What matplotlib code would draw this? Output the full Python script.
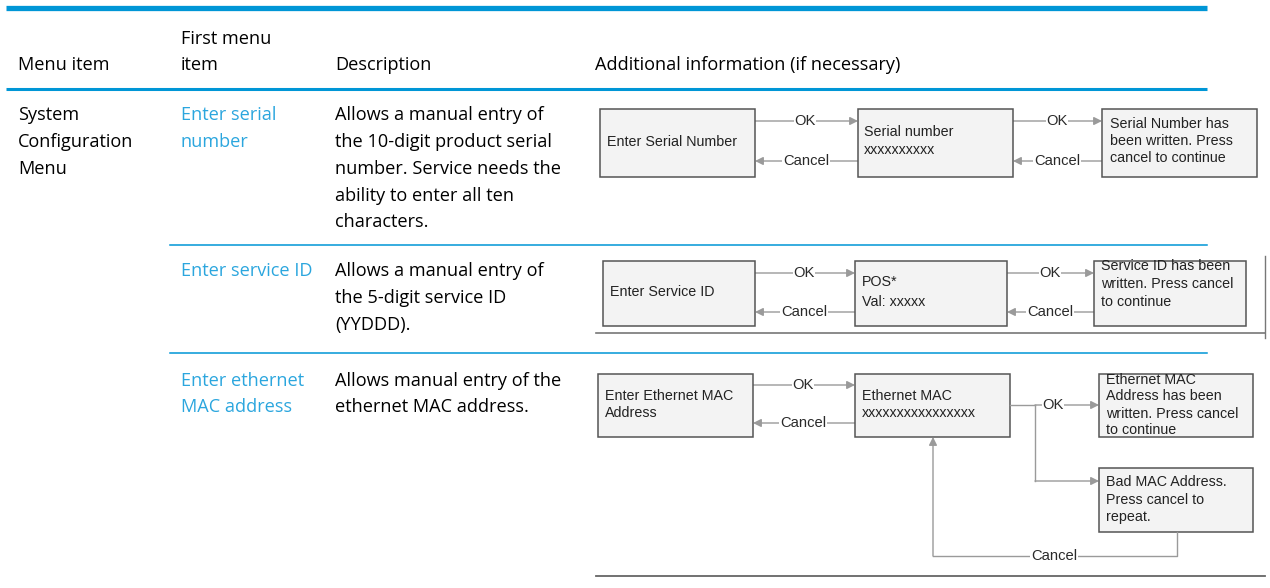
import matplotlib

matplotlib.use("Agg")
import matplotlib.pyplot as plt
from matplotlib.patches import Rectangle

# table text
header_labels = ["Menu item", "First menu\nitem", "Description", "Additional information (if necessary)"]
menu_item = ["System", "Configuration", "Menu"]
first_items = [
    ["Enter serial", "number"],
    ["Enter service ID"],
    ["Enter ethernet", "MAC address"],
]
descriptions = [
    ["Allows a manual entry of", "the 10-digit product serial", "number. Service needs the",
     "ability to enter all ten", "characters."],
    ["Allows a manual entry of", "the 5-digit service ID", "(YYDDD)."],
    ["Allows manual entry of the", "ethernet MAC address."],
]

# flow diagram box texts
serial_boxes = [["Enter Serial Number"], ["Serial number", "xxxxxxxxxx"],
                ["Serial Number has", "been written. Press", "cancel to continue"]]
service_boxes = [["Enter Service ID"], ["POS*", "Val: xxxxx"],
                 ["Service ID has been", "written. Press cancel", "to continue"]]
mac_boxes = [["Enter Ethernet MAC", "Address"], ["Ethernet MAC", "xxxxxxxxxxxxxxxx"],
             ["Ethernet MAC", "Address has been", "written. Press cancel", "to continue"],
             ["Bad MAC Address.", "Press cancel to", "repeat."]]
ok_label, cancel_label = "OK", "Cancel"

BLUE = "#0096D6"
LINK = "#2BA6DE"
GRAY = "#9a9a9a"
TFONT = ["Open Sans", "DejaVu Sans"]
DFONT = ["Liberation Sans", "DejaVu Sans"]

fig = plt.figure(figsize=(12.7, 5.88), dpi=100)
ax = fig.add_axes([0, 0, 1, 1])
ax.set_xlim(0, 1270)
ax.set_ylim(588, 0)
ax.axis("off")


def lines_at(x, y0, lines, dy, color="black", size=13.1, family=TFONT):
    for i, s in enumerate(lines):
        ax.text(x, y0 + 1.5 + i * dy, s, color=color, fontsize=size, family=family,
                va="center", ha="left")


def box(x0, y0, x1, y1, lines, tx, ty, dy=17.5):
    ax.add_patch(Rectangle((x0, y0), x1 - x0, y1 - y0, facecolor="#f3f3f3",
                           edgecolor="#555555", lw=1.1, zorder=2))
    for i, s in enumerate(lines):
        ax.text(tx, ty + 0.5 + i * dy, s, fontsize=10.3, family=DFONT, color="#222222",
                va="center", ha="left", zorder=3)


def arrow(x_from, x_to, y, label, lx, y_to=None):
    ax.annotate("", xy=(x_to, y if y_to is None else y_to), xytext=(x_from, y),
                arrowprops=dict(arrowstyle="-|>", color=GRAY, lw=1, mutation_scale=12,
                                shrinkA=0, shrinkB=0), zorder=1)
    if label:
        ax.text(lx, y, label, fontsize=10.6, family=DFONT, color="#2a2a2a", ha="center",
                va="center", bbox=dict(facecolor="white", edgecolor="none", pad=0.5), zorder=2)


# header
ax.plot([6, 1207], [8, 8], color=BLUE, lw=3.8, solid_capstyle="butt")
ax.plot([6, 1207], [89, 89], color=BLUE, lw=2.2, solid_capstyle="butt")
lines_at(18, 63, [header_labels[0]], 26)
lines_at(181, 37, header_labels[1].split("\n"), 26)
lines_at(335, 63, [header_labels[2]], 26)
lines_at(595, 63, [header_labels[3]], 26)

# rows
lines_at(18, 114, menu_item, 26.5)
row_y = [114, 270, 379]
for ys, fi, de in zip(row_y, first_items, descriptions):
    lines_at(181, ys, fi, 26.7, color=LINK)
    lines_at(335, ys, de, 26.7)
for y in [245, 353]:
    ax.plot([170, 1207], [y, y], color=BLUE, lw=1.1)

# row 1 diagram
box(600, 109, 755, 177, serial_boxes[0], 607, 141)
box(858, 109, 1013, 177, serial_boxes[1], 864, 131, 19)
box(1102, 109, 1257, 177, serial_boxes[2], 1110, 123, 17.5)
arrow(755, 858, 121, ok_label, 805)
arrow(858, 755, 161, cancel_label, 806)
arrow(1013, 1102, 121, ok_label, 1057)
arrow(1102, 1013, 161, cancel_label, 1057)

# row 2 diagram
box(603, 261, 755, 326, service_boxes[0], 610, 292)
box(855, 261, 1007, 326, service_boxes[1], 862, 282, 19)
box(1094, 261, 1246, 326, service_boxes[2], 1101, 266, 17.5)
arrow(755, 855, 273, ok_label, 804)
arrow(855, 755, 312, cancel_label, 804)
arrow(1007, 1094, 273, ok_label, 1050)
arrow(1094, 1007, 312, cancel_label, 1050)
ax.plot([596, 1265], [333, 333], color="#777777", lw=1.2)
ax.plot([1265, 1265], [256, 338], color="#777777", lw=1)

# row 3 diagram
box(598, 374, 753, 437, mac_boxes[0], 605, 396, 16.5)
box(855, 374, 1010, 437, mac_boxes[1], 862, 396, 16.5)
box(1099, 374, 1253, 437, mac_boxes[2], 1106, 379, 17)
box(1099, 468, 1253, 532, mac_boxes[3], 1106, 482, 17)
arrow(753, 855, 385, ok_label, 803)
arrow(855, 753, 423, cancel_label, 803)
ax.plot([1010, 1035], [405, 405], color=GRAY, lw=1)
arrow(1035, 1099, 405, ok_label, 1053)
ax.plot([1035, 1035], [405, 481], color=GRAY, lw=1)
arrow(1035, 1099, 481, None, 0)
ax.plot([1177, 1177, 933], [532, 556, 556], color=GRAY, lw=1)
ax.annotate("", xy=(933, 437), xytext=(933, 556),
            arrowprops=dict(arrowstyle="-|>", color=GRAY, lw=1, mutation_scale=12,
                            shrinkA=0, shrinkB=0))
ax.text(1054, 556, cancel_label, fontsize=10.6, family=DFONT, color="#2a2a2a", ha="center",
        va="center", bbox=dict(facecolor="white", edgecolor="none", pad=0.5))
ax.plot([596, 1265], [576, 576], color="#666666", lw=1.3)

fig.savefig("out.png", dpi=100)
